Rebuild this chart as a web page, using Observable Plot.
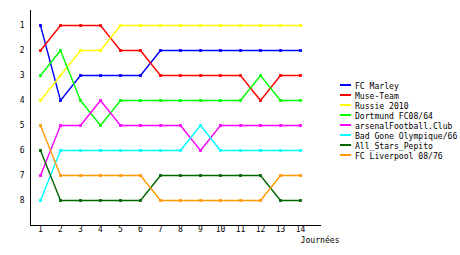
<!DOCTYPE html>
<html>
<head>
<meta charset="utf-8">
<script src="https://cdn.jsdelivr.net/npm/d3@7"></script>
<script src="https://cdn.jsdelivr.net/npm/@observablehq/plot@0.6"></script>
<style>
  body { margin: 0; background: #fff; }
  #wrap { position: relative; width: 460px; height: 255px; }
  #legend { position: absolute; left: 340px; top: 81px; font-family: "DejaVu Sans Mono", monospace; font-size: 8.1px; color: #000; }
  .row { height: 10px; line-height: 10px; display: flex; align-items: center; white-space: nowrap; }
  .sw { width: 11px; height: 2px; margin-right: 4px; margin-top: -3px; }
</style>
</head>
<body>
<div id="wrap"><div id="legend"></div></div>
<script>
const days = [1, 2, 3, 4, 5, 6, 7, 8, 9, 10, 11, 12, 13, 14];
const rankTicks = [1, 2, 3, 4, 5, 6, 7, 8];
const teams = ["FC Marley", "Muse-Team", "Russie 2010", "Dortmund FC08/64", "arsenalFootball.Club", "Bad Gone Olympique/66", "All_Stars_Pepito", "FC Liverpool 08/76"];
const colors = ["#0000ff", "#ff0000", "#ffff00", "#00ff00", "#ff00ff", "#00ffff", "#006600", "#ff9900"];
const fcMarley    = [1, 4, 3, 3, 3, 3, 2, 2, 2, 2, 2, 2, 2, 2];
const museTeam    = [2, 1, 1, 1, 2, 2, 3, 3, 3, 3, 3, 4, 3, 3];
const russie2010  = [4, 3, 2, 2, 1, 1, 1, 1, 1, 1, 1, 1, 1, 1];
const dortmund    = [3, 2, 4, 5, 4, 4, 4, 4, 4, 4, 4, 3, 4, 4];
const arsenal     = [7, 5, 5, 4, 5, 5, 5, 5, 6, 5, 5, 5, 5, 5];
const badGone     = [8, 6, 6, 6, 6, 6, 6, 6, 5, 6, 6, 6, 6, 6];
const allStars    = [6, 8, 8, 8, 8, 8, 7, 7, 7, 7, 7, 7, 8, 8];
const liverpool   = [5, 7, 7, 7, 7, 7, 8, 8, 8, 8, 8, 8, 7, 7];
const series = [fcMarley, museTeam, russie2010, dortmund, arsenal, badGone, allStars, liverpool];
const xLabel = "Journées";

const data = teams.flatMap((t, i) => series[i].map((r, j) => ({team: t, day: days[j], rank: r})));

const chart = Plot.plot({
  width: 460, height: 255,
  marginLeft: 30, marginRight: 140, marginTop: 10, marginBottom: 30,
  style: {fontFamily: "DejaVu Sans Mono, monospace", fontSize: "8px", background: "#fff", color: "#000"},
  x: {domain: [0.5, 15], ticks: days, tickSize: 0, tickPadding: 1, label: null, line: true},
  y: {domain: [9, 0.4], ticks: rankTicks, tickSize: 0, tickPadding: 6, label: null, line: true},
  color: {domain: teams, range: colors},
  marks: [
    Plot.line(data, {x: "day", y: "rank", z: "team", stroke: "team", strokeWidth: 1.4}),
    Plot.dot(data, {x: "day", y: "rank", fill: "team", symbol: "square", r: 1.6}),
    Plot.text([xLabel], {frameAnchor: "bottom-right", text: d => d, textAnchor: "end", lineAnchor: "top", dx: 19, dy: 12, fontSize: 8.1})
  ]
});
document.getElementById("wrap").prepend(chart);

const legend = document.getElementById("legend");
teams.forEach((t, i) => {
  const row = document.createElement("div");
  row.className = "row";
  const sw = document.createElement("span");
  sw.className = "sw";
  sw.style.background = colors[i];
  const lab = document.createElement("span");
  lab.textContent = t;
  row.append(sw, lab);
  legend.append(row);
});
</script>
</body>
</html>
